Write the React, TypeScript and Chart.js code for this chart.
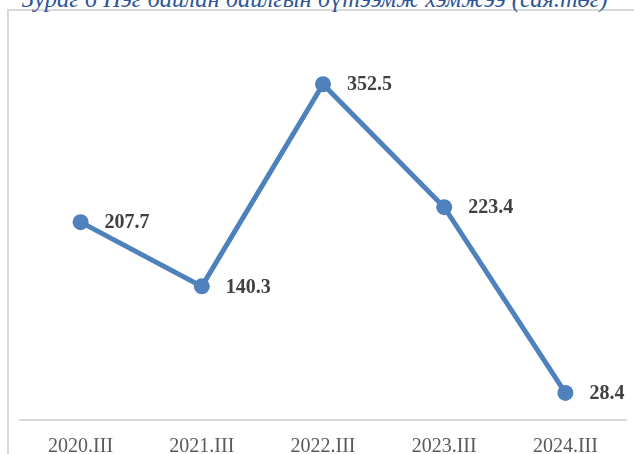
import React, { useEffect, useRef } from "react";
import { Chart, registerables } from "chart.js";

Chart.register(...registerables);

const title = "Зураг 6 Нэг байлан байлгын бүтээмж хэмжээ (сая.төг)";
const categories = ["2020.III", "2021.III", "2022.III", "2023.III", "2024.III"];
const values = [207.7, 140.3, 352.5, 223.4, 28.4];

const SERIF = "'Liberation Serif', 'Times New Roman', serif";

const valueLabels = {
  id: "valueLabels",
  afterDatasetsDraw(chart: any) {
    const ctx = chart.ctx;
    const meta = chart.getDatasetMeta(0);
    const data = chart.data.datasets[0].data as number[];
    ctx.save();
    ctx.font = `bold 20px ${SERIF}`;
    ctx.fillStyle = "#404040";
    ctx.textAlign = "left";
    ctx.textBaseline = "middle";
    meta.data.forEach((pt: any, i: number) => {
      ctx.fillText(data[i].toFixed(1), pt.x + 24, pt.y + 1);
    });
    ctx.restore();
  },
};

export default function App() {
  const ref = useRef<HTMLCanvasElement | null>(null);
  useEffect(() => {
    if (!ref.current) return;
    const chart = new Chart(ref.current, {
      type: "line",
      data: {
        labels: categories,
        datasets: [
          {
            data: values,
            borderColor: "#4F81BD",
            backgroundColor: "#4F81BD",
            borderWidth: 5,
            pointRadius: 8,
            pointHoverRadius: 8,
            pointBackgroundColor: "#4F81BD",
            pointBorderColor: "#4F81BD",
            pointBorderWidth: 0,
            tension: 0,
            fill: false,
          },
        ],
      },
      options: {
        animation: false,
        responsive: false,
        maintainAspectRatio: false,
        layout: { padding: { left: 20, right: 7, top: 39, bottom: 0 } },
        plugins: {
          legend: { display: false },
          tooltip: { enabled: false },
          title: { display: false },
        },
        scales: {
          x: {
            offset: true,
            grid: { display: false, drawTicks: false },
            border: { display: true, color: "#d9d9d9", width: 2 },
            ticks: {
              color: "#595959",
              font: { family: SERIF, size: 20 },
              padding: 15,
              maxRotation: 0,
              autoSkip: false,
            },
            afterFit(scale: any) {
              scale.height = 34;
            },
          },
          y: {
            display: false,
            min: 0,
            max: 400,
          },
        },
      },
      plugins: [valueLabels],
    });
    return () => chart.destroy();
  }, []);

  return (
    <div
      style={{
        position: "fixed",
        left: 0,
        top: 0,
        width: 634,
        height: 454,
        background: "#fff",
        overflow: "hidden",
      }}
    >
      <div
        style={{
          position: "absolute",
          left: 7,
          top: 9,
          width: 700,
          height: 500,
          borderLeft: "2px solid #d9d9d9",
          borderTop: "2px solid #d9d9d9",
        }}
      />
      <div
        style={{
          position: "absolute",
          left: 22,
          top: -13,
          whiteSpace: "nowrap",
          fontFamily: SERIF,
          fontStyle: "italic",
          fontSize: 24.5,
          lineHeight: "24px",
          color: "#2E5597",
        }}
      >
        {title}
      </div>
      <canvas
        ref={ref}
        width={634}
        height={454}
        style={{ position: "absolute", left: 0, top: 0 }}
      />
    </div>
  );
}
